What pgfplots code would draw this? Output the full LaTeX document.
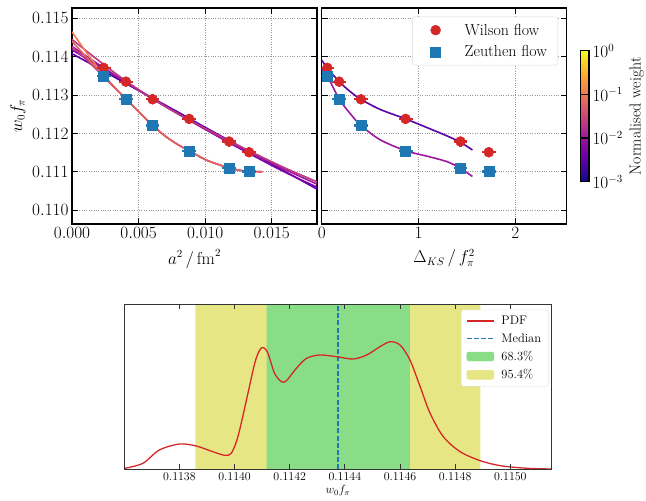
\documentclass[border=0pt]{standalone}
\usepackage{pgfplots}
\pgfplotsset{compat=1.18}
\definecolor{wred}{RGB}{214,39,40}
\definecolor{zblue}{RGB}{31,119,180}
\definecolor{q1}{RGB}{92,1,166}
\definecolor{q2}{RGB}{126,3,168}
\definecolor{q3}{RGB}{156,23,158}
\definecolor{q4}{RGB}{190,55,130}
\definecolor{q5}{RGB}{222,96,100}
\definecolor{q6}{RGB}{240,125,80}
\definecolor{yband}{RGB}{231,230,132}
\definecolor{gband}{RGB}{137,221,135}
\pgfplotsset{
  topax/.style={scale only axis, width=245bp, height=216bp,
    ymin=0.10964, ymax=0.11527,
    tick align=inside, xtick pos=both, ytick pos=both,
    major tick length=6bp, minor tick num=0,
    grid=major, grid style={dotted, black!40, line width=0.7bp},
    axis line style={line width=1.1bp},
    every tick/.style={black, line width=1.1bp},
    tick label style={font=\fontsize{16}{18}\selectfont},
    label style={font=\fontsize{16}{18}\selectfont},
    xlabel style={yshift=-4bp},
    ytick={0.110,0.111,0.112,0.113,0.114,0.115},
    scaled y ticks=false, scaled x ticks=false,
    yticklabel style={/pgf/number format/.cd, fixed, fixed zerofill, precision=3},
  },
  fit/.style={line width=1.6bp, smooth, no marks},
}
\begin{document}
\begin{tikzpicture}
\useasboundingbox (0,0) rectangle (646bp,-501bp);
% ---------------- left top panel
\begin{axis}[topax, at={(72bp,-224bp)}, anchor=south west,
  xmin=0, xmax=0.0184, xtick={0,0.005,0.010,0.015},
  xticklabel style={/pgf/number format/.cd, fixed, fixed zerofill, precision=3},
  xlabel={$a^2\,/\,\mathrm{fm}^2$}, ylabel={$w_0 f_\pi$}]
% Wilson fits
\addplot[fit, q1] coordinates {(0,0.11408) (0.002,0.11370) (0.004,0.11331) (0.006,0.11293) (0.008,0.11255) (0.010,0.11216) (0.012,0.11178) (0.014,0.11140) (0.016,0.11101) (0.0184,0.11055)};
\addplot[fit, q2] coordinates {(0,0.11418) (0.002,0.11376) (0.004,0.11334) (0.006,0.11292) (0.008,0.11251) (0.010,0.11211) (0.012,0.11172) (0.014,0.11135) (0.016,0.11099) (0.0184,0.11060)};
\addplot[fit, q3] coordinates {(0,0.11427) (0.002,0.11380) (0.004,0.11335) (0.006,0.11291) (0.008,0.11250) (0.010,0.11211) (0.012,0.11174) (0.014,0.11140) (0.016,0.11106) (0.0184,0.11068)};
\addplot[fit, q4] coordinates {(0,0.11445) (0.002,0.11390) (0.004,0.11338) (0.006,0.11292) (0.008,0.11251) (0.010,0.11213) (0.012,0.11177) (0.014,0.11143) (0.016,0.11110) (0.0184,0.11074)};
% Zeuthen fits
\addplot[fit, q4] coordinates {(0,0.11425) (0.001,0.11395) (0.002,0.11361) (0.003,0.11326) (0.004,0.11292) (0.005,0.11257) (0.006,0.11223) (0.007,0.11193) (0.008,0.11170) (0.009,0.11151) (0.010,0.11132) (0.011,0.11119) (0.012,0.11108) (0.013,0.11102) (0.0143,0.11100)};
\addplot[fit, q6] coordinates {(0,0.11465) (0.001,0.11415) (0.002,0.11369) (0.003,0.11328) (0.004,0.11292) (0.005,0.11257) (0.006,0.11223) (0.007,0.11193) (0.008,0.11170) (0.009,0.11151) (0.010,0.11132) (0.011,0.11119) (0.012,0.11108) (0.013,0.11102) (0.0143,0.11100)};
\addplot[fit, q5] coordinates {(0,0.11440) (0.001,0.11402) (0.002,0.11364) (0.003,0.11327) (0.004,0.11292) (0.005,0.11257) (0.006,0.11223) (0.007,0.11193) (0.008,0.11170) (0.009,0.11151) (0.010,0.11132) (0.011,0.11119) (0.012,0.11108) (0.013,0.11102) (0.0143,0.11100)};
% data
\addplot[only marks, mark=*, wred, mark size=5bp,
  error bars/.cd, x dir=both, x explicit, y dir=both, y explicit,
  error mark=none, error bar style={line width=2.2bp, wred}]
  coordinates {(0.00238,0.11371) +- (0.00052,0.00013) (0.00405,0.11335) +- (0.00052,0.00013) (0.00605,0.11289) +- (0.00052,0.00013) (0.0088,0.11238) +- (0.00052,0.00013) (0.0118,0.11179) +- (0.00052,0.00013) (0.0133,0.11151) +- (0.00052,0.00013)};
\addplot[only marks, mark=square*, zblue, mark size=5bp,
  error bars/.cd, x dir=both, x explicit, y dir=both, y explicit,
  error mark=none, error bar style={line width=2.2bp, zblue}]
  coordinates {(0.00238,0.11350) +- (0.00052,0.00013) (0.00405,0.11290) +- (0.00052,0.00013) (0.00605,0.11221) +- (0.00052,0.00013) (0.0088,0.11155) +- (0.00052,0.00013) (0.0118,0.11109) +- (0.00052,0.00013) (0.0133,0.11101) +- (0.00052,0.00013)};
\end{axis}
% ---------------- right top panel
\begin{axis}[topax, at={(321.7bp,-224bp)}, anchor=south west,
  xmin=0, xmax=2.53, xtick={0,1,2}, yticklabels={},
  xlabel={$\Delta_{KS}\,/\,f_{\pi}^{2}$},
  legend style={at={(0.965,0.96)}, anchor=north east, draw=black!15, rounded corners=2bp,
    font=\fontsize{16}{18}\selectfont, row sep=5bp, inner xsep=9bp, inner ysep=5bp,
    /tikz/every odd column/.append style={column sep=13bp}},
  legend cell align=left]
\addplot[fit, q1, forget plot] coordinates {(0,0.11391) (0.058,0.11371) (0.18,0.11335) (0.3,0.11308) (0.405,0.11289) (0.6,0.11263) (0.866,0.11238) (1.1,0.11214) (1.3,0.11193) (1.433,0.11177) (1.556,0.11157)};
\addplot[fit, q3, forget plot] coordinates {(0,0.11368) (0.058,0.11350) (0.18,0.11290) (0.3,0.11250) (0.405,0.11221) (0.6,0.11184) (0.866,0.11155) (1.1,0.11140) (1.3,0.11126) (1.433,0.11109) (1.556,0.11088)};
\addplot[only marks, mark=*, wred, mark size=5bp,
  legend image code/.code={\path[draw=none, fill=none] (-14bp,0bp) -- (14bp,0bp); \pgfuseplotmark{*}},
  error bars/.cd, x dir=both, x explicit, y dir=both, y explicit,
  error mark=none, error bar style={line width=2.2bp, wred}]
  coordinates {(0.058,0.11371) +- (0.072,0.00013) (0.18,0.11335) +- (0.072,0.00013) (0.405,0.11289) +- (0.072,0.00013) (0.866,0.11238) +- (0.072,0.00013) (1.433,0.11179) +- (0.072,0.00013) (1.725,0.11151) +- (0.072,0.00013)};
\addlegendentry{Wilson flow}
\addplot[only marks, mark=square*, zblue, mark size=5bp,
  legend image code/.code={\path[draw=none, fill=none] (-14bp,0bp) -- (14bp,0bp); \pgfuseplotmark{square*}},
  error bars/.cd, x dir=both, x explicit, y dir=both, y explicit,
  error mark=none, error bar style={line width=2.2bp, zblue}]
  coordinates {(0.058,0.11350) +- (0.072,0.00013) (0.18,0.11290) +- (0.072,0.00013) (0.405,0.11221) +- (0.072,0.00013) (0.866,0.11155) +- (0.072,0.00013) (1.433,0.11109) +- (0.072,0.00013) (1.725,0.11101) +- (0.072,0.00013)};
\addlegendentry{Zeuthen flow}
\end{axis}
% ---------------- colorbar
\begin{axis}[at={(580.7bp,-181.7bp)}, anchor=south west, scale only axis,
  width=8.3bp, height=131bp, xmin=0, xmax=1, ymin=-3, ymax=0,
  xtick=\empty, ytick={-3,-2,-1,0},
  yticklabels={$10^{-3}$,$10^{-2}$,$10^{-1}$,$10^{0}$},
  yticklabel pos=right, ytick pos=right, tick align=inside,
  major tick length=8.3bp, every tick/.style={black, line width=1.1bp},
  axis line style={line width=1.1bp},
  tick label style={font=\fontsize{16}{18}\selectfont},
  ylabel={Normalised weight}, ylabel style={font=\fontsize{16}{18}\selectfont},
  colormap={plasma}{rgb255=(13,8,135) rgb255=(65,4,157) rgb255=(106,0,168) rgb255=(143,13,164) rgb255=(177,42,144) rgb255=(204,71,120) rgb255=(225,100,98) rgb255=(242,132,75) rgb255=(252,166,54) rgb255=(252,206,37) rgb255=(240,249,33)},
  point meta min=-3, point meta max=0, axis on top]
\addplot[surf, shader=interp, mesh/cols=2, mesh/rows=4, point meta=y]
  coordinates {(0,-3) (1,-3) (0,-2) (1,-2) (0,-1) (1,-1) (0,0) (1,0)};
\end{axis}
% ---------------- bottom panel
\begin{axis}[at={(124.3bp,-469.3bp)}, anchor=south west, scale only axis,
  width=427.4bp, height=165.3bp,
  xmin=0.11360, xmax=0.11515, ymin=0, ymax=165.3, ytick=\empty,
  xtick={0.1138,0.1140,0.1142,0.1144,0.1146,0.1148,0.1150},
  scaled x ticks=false,
  xticklabel style={/pgf/number format/.cd, fixed, fixed zerofill, precision=4},
  tick align=inside, xtick pos=both, major tick length=5bp,
  every tick/.style={black!80, line width=0.9bp},
  axis line style={black!80, line width=0.9bp},
  tick label style={font=\fontsize{12}{14}\selectfont},
  label style={font=\fontsize{12}{14}\selectfont},
  xlabel={$w_0 f_\pi$}, xlabel style={yshift=2bp},
  axis on top,
  legend style={at={(0.992,0.965)}, anchor=north east, draw=black!15, rounded corners=2bp,
    font=\fontsize{12.5}{14}\selectfont, row sep=3.5bp, inner xsep=5bp, inner ysep=4bp,
    /tikz/every odd column/.append style={column sep=5bp}},
  legend cell align=left]
\addlegendimage{legend image code/.code={\draw[wred, line width=1.3bp] (0bp,0bp) -- (27bp,0bp);}}
\addlegendentry{PDF}
\addlegendimage{legend image code/.code={\draw[zblue, line width=1.3bp, dash pattern=on 5bp off 2.2bp] (0bp,0bp) -- (27bp,0bp);}}
\addlegendentry{Median}
\addlegendimage{legend image code/.code={\fill[gband] (0bp,-4.5bp) rectangle (27bp,4.5bp);}}
\addlegendentry{68.3\%}
\addlegendimage{legend image code/.code={\fill[yband] (0bp,-4.5bp) rectangle (27bp,4.5bp);}}
\addlegendentry{95.4\%}
\addplot[fill=yband, draw=none, forget plot] coordinates {(0.113858,0) (0.113858,165.3) (0.114891,165.3) (0.114891,0)} \closedcycle;
\addplot[fill=gband, draw=none, forget plot] coordinates {(0.114116,0) (0.114116,165.3) (0.114636,165.3) (0.114636,0)} \closedcycle;
\addplot[zblue, line width=1.3bp, dash pattern=on 5bp off 2.2bp, forget plot] coordinates {(0.114375,0) (0.114375,165.3)};
\addplot[wred, line width=1.3bp, smooth, tension=0.5, forget plot] coordinates {
(0.113598,0.8) (0.113667,5.9) (0.113727,19.3) (0.113800,25.3) (0.113861,23.3) (0.113921,17.6) (0.113964,14.0) (0.113988,16.0) (0.114012,32.6) (0.114043,69.3) (0.114073,106.0) (0.114091,119.3) (0.114105,121.6) (0.114121,116.0) (0.114145,96.0) (0.114170,87.6) (0.114188,88.6) (0.114224,101.0) (0.114261,111.0) (0.114309,114.3) (0.114370,112.6) (0.114430,110.3) (0.114479,114.3) (0.114527,122.6) (0.114564,127.6) (0.114600,124.3) (0.114636,109.3) (0.114673,82.6) (0.114709,56.0) (0.114757,32.6) (0.114818,17.6) (0.114891,8.6) (0.114964,3.6) (0.115061,1.0) (0.115152,0.3)};
\end{axis}
\end{tikzpicture}
\end{document}
